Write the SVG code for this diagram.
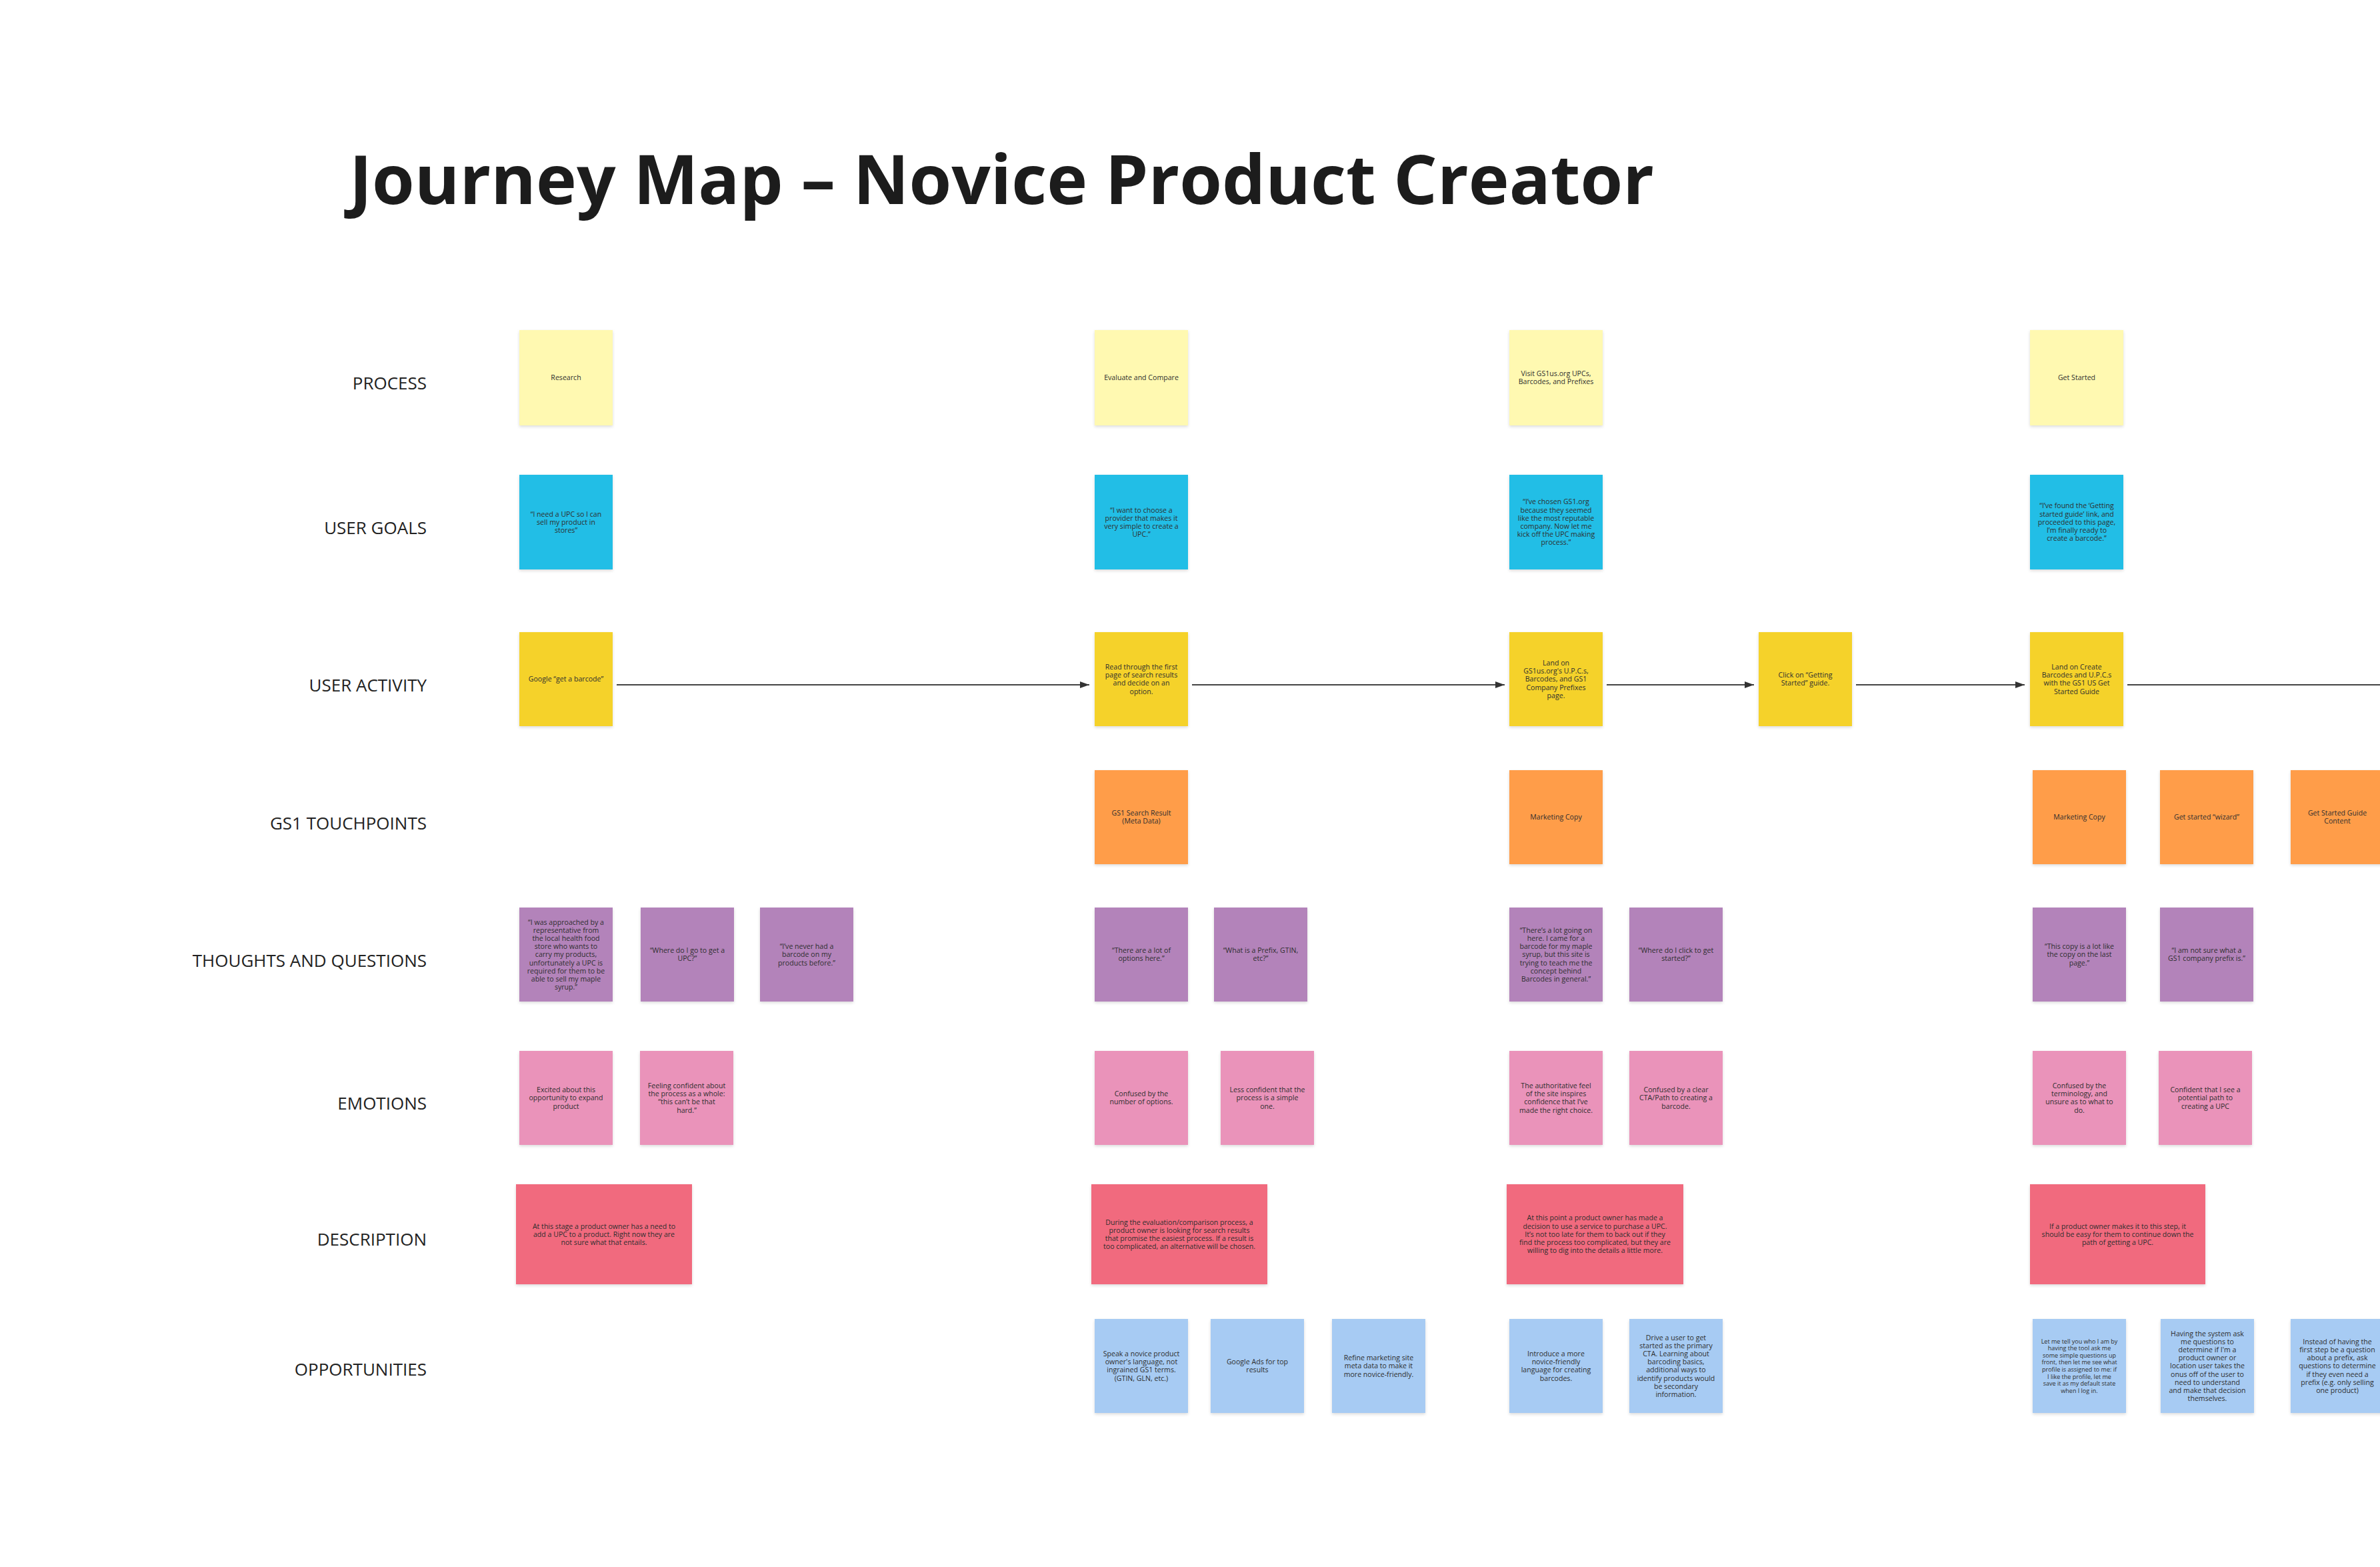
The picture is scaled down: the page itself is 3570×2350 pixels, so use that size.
<svg xmlns="http://www.w3.org/2000/svg" width="3570" height="2350" viewBox="0 0 3570 2350">
<defs>
<filter id="sh" x="-10%" y="-10%" width="120%" height="130%">
<feDropShadow dx="0" dy="2" stdDeviation="2" flood-color="#000" flood-opacity="0.14"/>
</filter>
<marker id="arr" viewBox="0 0 14 10" refX="14" refY="5" markerWidth="14" markerHeight="10" markerUnits="userSpaceOnUse" orient="auto">
<path d="M0,0 L14,5 L0,10 Z" fill="#333"/>
</marker>
<style>
.bg{fill:#ffffff}
.s{filter:url(#sh)}
.py{fill:#fff9b1}
.gl{fill:#24bee6}
.ac{fill:#f5d22a}
.tp{fill:#ff9d48}
.th{fill:#b383ba}
.em{fill:#ea93ba}
.ds{fill:#f16b7e}
.op{fill:#a7cbf3}
.t{font-family:"Open Sans","Liberation Sans",sans-serif;font-size:10.6px;fill:#2e2e2e;text-anchor:middle}
.t9{font-size:9px}
.lbl{font-family:"Open Sans","Liberation Sans",sans-serif;font-size:26px;fill:#222;text-anchor:end}
.title{font-family:"Open Sans","Liberation Sans",sans-serif;font-size:103px;font-weight:700;fill:#1c1c1c}
.cn{stroke:#444;stroke-width:2;fill:none}
</style>
</defs>
<rect class="bg" x="0" y="0" width="3570" height="2350"/>
<text id="title" class="title" x="524" y="306">Journey Map – Novice Product Creator</text>
<g id="row-labels">
<text class="lbl" x="640" y="583.5">PROCESS</text>
<text class="lbl" x="640" y="800.5">USER GOALS</text>
<text class="lbl" x="640" y="1036.5">USER ACTIVITY</text>
<text class="lbl" x="640" y="1243.5">GS1 TOUCHPOINTS</text>
<text class="lbl" x="640" y="1449.5">THOUGHTS AND QUESTIONS</text>
<text class="lbl" x="640" y="1663.5">EMOTIONS</text>
<text class="lbl" x="640" y="1867.5">DESCRIPTION</text>
<text class="lbl" x="640" y="2062.5">OPPORTUNITIES</text>
</g>
<g id="connectors">
<line class="cn" x1="925" y1="1027" x2="1634" y2="1027" marker-end="url(#arr)"/>
<line class="cn" x1="1788" y1="1027" x2="2257" y2="1027" marker-end="url(#arr)"/>
<line class="cn" x1="2410" y1="1027" x2="2631" y2="1027" marker-end="url(#arr)"/>
<line class="cn" x1="2784" y1="1027" x2="3037" y2="1027" marker-end="url(#arr)"/>
<line class="cn" x1="3191" y1="1027" x2="3575" y2="1027"/>
</g>
<!-- Column 1 -->
<g id="p1"><rect class="s py" x="779" y="495" width="140" height="143"/><text class="t" x="849" y="570.3">Research</text></g>
<g id="g1"><rect class="s gl" x="779" y="712" width="140" height="142"/><text class="t" y="774.6"><tspan x="849">“I need a UPC so I can</tspan><tspan x="849" dy="12.2">sell my product in</tspan><tspan x="849" dy="12.2">stores”</tspan></text></g>
<g id="a1"><rect class="s ac" x="779" y="948" width="140" height="141"/><text class="t" x="849" y="1022.3">Google “get a barcode”</text></g>
<g id="th1a"><rect class="s th" x="779" y="1361" width="140" height="141"/><text class="t" y="1386.5"><tspan x="849">“I was approached by a</tspan><tspan x="849" dy="12.2">representative from</tspan><tspan x="849" dy="12.2">the local health food</tspan><tspan x="849" dy="12.2">store who wants to</tspan><tspan x="849" dy="12.2">carry my products,</tspan><tspan x="849" dy="12.2">unfortunately a UPC is</tspan><tspan x="849" dy="12.2">required for them to be</tspan><tspan x="849" dy="12.2">able to sell my maple</tspan><tspan x="849" dy="12.2">syrup.”</tspan></text></g>
<g id="th1b"><rect class="s th" x="961" y="1361" width="140" height="141"/><text class="t" y="1429.2"><tspan x="1031">“Where do I go to get a</tspan><tspan x="1031" dy="12.2">UPC?”</tspan></text></g>
<g id="th1c"><rect class="s th" x="1140" y="1361" width="140" height="141"/><text class="t" y="1423.1"><tspan x="1210">“I’ve never had a</tspan><tspan x="1210" dy="12.2">barcode on my</tspan><tspan x="1210" dy="12.2">products before.”</tspan></text></g>
<g id="em1a"><rect class="s em" x="779" y="1576" width="140" height="141"/><text class="t" y="1638.1"><tspan x="849">Excited about this</tspan><tspan x="849" dy="12.2">opportunity to expand</tspan><tspan x="849" dy="12.2">product</tspan></text></g>
<g id="em1b"><rect class="s em" x="960" y="1576" width="140" height="141"/><text class="t" y="1632"><tspan x="1030">Feeling confident about</tspan><tspan x="1030" dy="12.2">the process as a whole:</tspan><tspan x="1030" dy="12.2">“this can’t be that</tspan><tspan x="1030" dy="12.2">hard.”</tspan></text></g>
<g id="ds1"><rect class="s ds" x="774" y="1776" width="264" height="150"/><text class="t" y="1842.6"><tspan x="906">At this stage a product owner has a need to</tspan><tspan x="906" dy="12.2">add a UPC to a product. Right now they are</tspan><tspan x="906" dy="12.2">not sure what that entails.</tspan></text></g>
<!-- Column 2 -->
<g id="p2"><rect class="s py" x="1642" y="495" width="140" height="143"/><text class="t" x="1712" y="570.3">Evaluate and Compare</text></g>
<g id="g2"><rect class="s gl" x="1642" y="712" width="140" height="142"/><text class="t" y="768.5"><tspan x="1712">“I want to choose a</tspan><tspan x="1712" dy="12.2">provider that makes it</tspan><tspan x="1712" dy="12.2">very simple to create a</tspan><tspan x="1712" dy="12.2">UPC.”</tspan></text></g>
<g id="a2"><rect class="s ac" x="1642" y="948" width="140" height="141"/><text class="t" y="1004"><tspan x="1712">Read through the first</tspan><tspan x="1712" dy="12.2">page of search results</tspan><tspan x="1712" dy="12.2">and decide on an</tspan><tspan x="1712" dy="12.2">option.</tspan></text></g>
<g id="tp2"><rect class="s tp" x="1642" y="1155" width="140" height="141"/><text class="t" y="1223.2"><tspan x="1712">GS1 Search Result</tspan><tspan x="1712" dy="12.2">(Meta Data)</tspan></text></g>
<g id="th2a"><rect class="s th" x="1642" y="1361" width="140" height="141"/><text class="t" y="1429.2"><tspan x="1712">“There are a lot of</tspan><tspan x="1712" dy="12.2">options here.”</tspan></text></g>
<g id="th2b"><rect class="s th" x="1821" y="1361" width="140" height="141"/><text class="t" y="1429.2"><tspan x="1891">“What is a Prefix, GTIN,</tspan><tspan x="1891" dy="12.2">etc?”</tspan></text></g>
<g id="em2a"><rect class="s em" x="1642" y="1576" width="140" height="141"/><text class="t" y="1644.2"><tspan x="1712">Confused by the</tspan><tspan x="1712" dy="12.2">number of options.</tspan></text></g>
<g id="em2b"><rect class="s em" x="1831" y="1576" width="140" height="141"/><text class="t" y="1638.1"><tspan x="1901">Less confident that the</tspan><tspan x="1901" dy="12.2">process is a simple</tspan><tspan x="1901" dy="12.2">one.</tspan></text></g>
<g id="ds2"><rect class="s ds" x="1637" y="1776" width="264" height="150"/><text class="t" y="1836.5"><tspan x="1769">During the evaluation/comparison process, a</tspan><tspan x="1769" dy="12.2">product owner is looking for search results</tspan><tspan x="1769" dy="12.2">that promise the easiest process. If a result is</tspan><tspan x="1769" dy="12.2">too complicated, an alternative will be chosen.</tspan></text></g>
<g id="op2a"><rect class="s op" x="1642" y="1978" width="140" height="141"/><text class="t" y="2034"><tspan x="1712">Speak a novice product</tspan><tspan x="1712" dy="12.2">owner's language, not</tspan><tspan x="1712" dy="12.2">ingrained GS1 terms.</tspan><tspan x="1712" dy="12.2">(GTIN, GLN, etc.)</tspan></text></g>
<g id="op2b"><rect class="s op" x="1816" y="1978" width="140" height="141"/><text class="t" y="2046.2"><tspan x="1886">Google Ads for top</tspan><tspan x="1886" dy="12.2">results</tspan></text></g>
<g id="op2c"><rect class="s op" x="1998" y="1978" width="140" height="141"/><text class="t" y="2040.1"><tspan x="2068">Refine marketing site</tspan><tspan x="2068" dy="12.2">meta data to make it</tspan><tspan x="2068" dy="12.2">more novice-friendly.</tspan></text></g>
<!-- Column 3 -->
<g id="p3"><rect class="s py" x="2264" y="495" width="140" height="143"/><text class="t" y="564.2"><tspan x="2334">Visit GS1us.org UPCs,</tspan><tspan x="2334" dy="12.2">Barcodes, and Prefixes</tspan></text></g>
<g id="g3"><rect class="s gl" x="2264" y="712" width="140" height="142"/><text class="t" y="756.3"><tspan x="2334">“I’ve chosen GS1.org</tspan><tspan x="2334" dy="12.2">because they seemed</tspan><tspan x="2334" dy="12.2">like the most reputable</tspan><tspan x="2334" dy="12.2">company. Now let me</tspan><tspan x="2334" dy="12.2">kick off the UPC making</tspan><tspan x="2334" dy="12.2">process.”</tspan></text></g>
<g id="a3"><rect class="s ac" x="2264" y="948" width="140" height="141"/><text class="t" y="997.9"><tspan x="2334">Land on</tspan><tspan x="2334" dy="12.2">GS1us.org's U.P.C.s,</tspan><tspan x="2334" dy="12.2">Barcodes, and GS1</tspan><tspan x="2334" dy="12.2">Company Prefixes</tspan><tspan x="2334" dy="12.2">page.</tspan></text></g>
<g id="a3b"><rect class="s ac" x="2638" y="948" width="140" height="141"/><text class="t" y="1016.2"><tspan x="2708">Click on “Getting</tspan><tspan x="2708" dy="12.2">Started” guide.</tspan></text></g>
<g id="tp3"><rect class="s tp" x="2264" y="1155" width="140" height="141"/><text class="t" x="2334" y="1229.3">Marketing Copy</text></g>
<g id="th3a"><rect class="s th" x="2264" y="1361" width="140" height="141"/><text class="t" y="1398.7"><tspan x="2334">“There’s a lot going on</tspan><tspan x="2334" dy="12.2">here. I came for a</tspan><tspan x="2334" dy="12.2">barcode for my maple</tspan><tspan x="2334" dy="12.2">syrup, but this site is</tspan><tspan x="2334" dy="12.2">trying to teach me the</tspan><tspan x="2334" dy="12.2">concept behind</tspan><tspan x="2334" dy="12.2">Barcodes in general.”</tspan></text></g>
<g id="th3b"><rect class="s th" x="2444" y="1361" width="140" height="141"/><text class="t" y="1429.2"><tspan x="2514">“Where do I click to get</tspan><tspan x="2514" dy="12.2">started?”</tspan></text></g>
<g id="em3a"><rect class="s em" x="2264" y="1576" width="140" height="141"/><text class="t" y="1632"><tspan x="2334">The authoritative feel</tspan><tspan x="2334" dy="12.2">of the site inspires</tspan><tspan x="2334" dy="12.2">confidence that I’ve</tspan><tspan x="2334" dy="12.2">made the right choice.</tspan></text></g>
<g id="em3b"><rect class="s em" x="2444" y="1576" width="140" height="141"/><text class="t" y="1638.1"><tspan x="2514">Confused by a clear</tspan><tspan x="2514" dy="12.2">CTA/Path to creating a</tspan><tspan x="2514" dy="12.2">barcode.</tspan></text></g>
<g id="ds3"><rect class="s ds" x="2260" y="1776" width="265" height="150"/><text class="t" y="1830.4"><tspan x="2392.5">At this point a product owner has made a</tspan><tspan x="2392.5" dy="12.2">decision to use a service to purchase a UPC.</tspan><tspan x="2392.5" dy="12.2">It’s not too late for them to back out if they</tspan><tspan x="2392.5" dy="12.2">find the process too complicated, but they are</tspan><tspan x="2392.5" dy="12.2">willing to dig into the details a little more.</tspan></text></g>
<g id="op3a"><rect class="s op" x="2264" y="1978" width="140" height="141"/><text class="t" y="2034"><tspan x="2334">Introduce a more</tspan><tspan x="2334" dy="12.2">novice-friendly</tspan><tspan x="2334" dy="12.2">language for creating</tspan><tspan x="2334" dy="12.2">barcodes.</tspan></text></g>
<g id="op3b"><rect class="s op" x="2444" y="1978" width="140" height="141"/><text class="t" y="2009.6"><tspan x="2514">Drive a user to get</tspan><tspan x="2514" dy="12.2">started as the primary</tspan><tspan x="2514" dy="12.2">CTA. Learning about</tspan><tspan x="2514" dy="12.2">barcoding basics,</tspan><tspan x="2514" dy="12.2">additional ways to</tspan><tspan x="2514" dy="12.2">identify products would</tspan><tspan x="2514" dy="12.2">be secondary</tspan><tspan x="2514" dy="12.2">information.</tspan></text></g>
<!-- Column 4 -->
<g id="p4"><rect class="s py" x="3045" y="495" width="140" height="143"/><text class="t" x="3115" y="570.3">Get Started</text></g>
<g id="g4"><rect class="s gl" x="3045" y="712" width="140" height="142"/><text class="t" y="762.4"><tspan x="3115">“I’ve found the ‘Getting</tspan><tspan x="3115" dy="12.2">started guide’ link, and</tspan><tspan x="3115" dy="12.2">proceeded to this page,</tspan><tspan x="3115" dy="12.2">I’m finally ready to</tspan><tspan x="3115" dy="12.2">create a barcode.”</tspan></text></g>
<g id="a4"><rect class="s ac" x="3045" y="948" width="140" height="141"/><text class="t" y="1004"><tspan x="3115">Land on Create</tspan><tspan x="3115" dy="12.2">Barcodes and U.P.C.s</tspan><tspan x="3115" dy="12.2">with the GS1 US Get</tspan><tspan x="3115" dy="12.2">Started Guide</tspan></text></g>
<g id="tp4a"><rect class="s tp" x="3049" y="1155" width="140" height="141"/><text class="t" x="3119" y="1229.3">Marketing Copy</text></g>
<g id="tp4b"><rect class="s tp" x="3240" y="1155" width="140" height="141"/><text class="t" x="3310" y="1229.3">Get started “wizard”</text></g>
<g id="tp4c"><rect class="s tp" x="3436" y="1155" width="141" height="141"/><text class="t" y="1223.2"><tspan x="3506">Get Started Guide</tspan><tspan x="3506" dy="12.2">Content</tspan></text></g>
<g id="th4a"><rect class="s th" x="3049" y="1361" width="140" height="141"/><text class="t" y="1423.1"><tspan x="3119">“This copy is a lot like</tspan><tspan x="3119" dy="12.2">the copy on the last</tspan><tspan x="3119" dy="12.2">page.”</tspan></text></g>
<g id="th4b"><rect class="s th" x="3240" y="1361" width="140" height="141"/><text class="t" y="1429.2"><tspan x="3310">“I am not sure what a</tspan><tspan x="3310" dy="12.2">GS1 company prefix is.”</tspan></text></g>
<g id="em4a"><rect class="s em" x="3049" y="1576" width="140" height="141"/><text class="t" y="1632"><tspan x="3119">Confused by the</tspan><tspan x="3119" dy="12.2">terminology, and</tspan><tspan x="3119" dy="12.2">unsure as to what to</tspan><tspan x="3119" dy="12.2">do.</tspan></text></g>
<g id="em4b"><rect class="s em" x="3238" y="1576" width="140" height="141"/><text class="t" y="1638.1"><tspan x="3308">Confident that I see a</tspan><tspan x="3308" dy="12.2">potential path to</tspan><tspan x="3308" dy="12.2">creating a UPC</tspan></text></g>
<g id="ds4"><rect class="s ds" x="3045" y="1776" width="263" height="150"/><text class="t" y="1842.6"><tspan x="3176.5">If a product owner makes it to this step, it</tspan><tspan x="3176.5" dy="12.2">should be easy for them to continue down the</tspan><tspan x="3176.5" dy="12.2">path of getting a UPC.</tspan></text></g>
<g id="op4a"><rect class="s op" x="3049" y="1978" width="140" height="141"/><text class="t t9" y="2014.6"><tspan x="3119">Let me tell you who I am by</tspan><tspan x="3119" dy="10.6">having the tool ask me</tspan><tspan x="3119" dy="10.6">some simple questions up</tspan><tspan x="3119" dy="10.6">front, then let me see what</tspan><tspan x="3119" dy="10.6">profile is assigned to me: if</tspan><tspan x="3119" dy="10.6">I like the profile, let me</tspan><tspan x="3119" dy="10.6">save it as my default state</tspan><tspan x="3119" dy="10.6">when I log in.</tspan></text></g>
<g id="op4b"><rect class="s op" x="3241" y="1978" width="140" height="141"/><text class="t" y="2003.5"><tspan x="3311">Having the system ask</tspan><tspan x="3311" dy="12.2">me questions to</tspan><tspan x="3311" dy="12.2">determine if I'm a</tspan><tspan x="3311" dy="12.2">product owner or</tspan><tspan x="3311" dy="12.2">location user takes the</tspan><tspan x="3311" dy="12.2">onus off of the user to</tspan><tspan x="3311" dy="12.2">need to understand</tspan><tspan x="3311" dy="12.2">and make that decision</tspan><tspan x="3311" dy="12.2">themselves.</tspan></text></g>
<g id="op4c"><rect class="s op" x="3436" y="1978" width="141" height="141"/><text class="t" y="2015.7"><tspan x="3506">Instead of having the</tspan><tspan x="3506" dy="12.2">first step be a question</tspan><tspan x="3506" dy="12.2">about a prefix, ask</tspan><tspan x="3506" dy="12.2">questions to determine</tspan><tspan x="3506" dy="12.2">if they even need a</tspan><tspan x="3506" dy="12.2">prefix (e.g. only selling</tspan><tspan x="3506" dy="12.2">one product)</tspan></text></g>
</svg>
